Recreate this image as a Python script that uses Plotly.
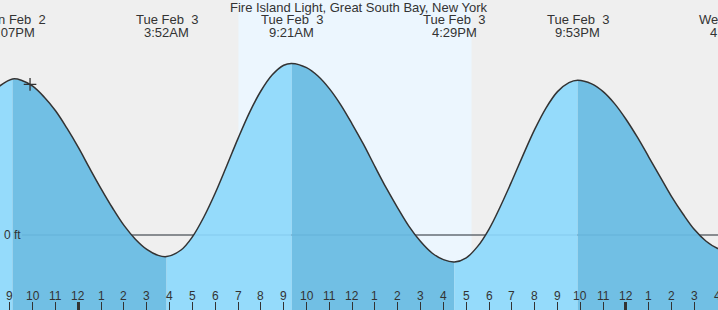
import plotly.graph_objects as go
from datetime import datetime, timedelta

# ---------------- data ----------------
title_text = "Fire Island Light, Great South Bay, New York"

curve_times = [
    "2026-02-02 20:30", "2026-02-02 21:07", "2026-02-02 21:30", "2026-02-02 22:00",
    "2026-02-02 22:30", "2026-02-02 23:00", "2026-02-02 23:30", "2026-02-03 00:00",
    "2026-02-03 00:30", "2026-02-03 01:00", "2026-02-03 01:30", "2026-02-03 02:00",
    "2026-02-03 02:30", "2026-02-03 03:00", "2026-02-03 03:30", "2026-02-03 03:52",
    "2026-02-03 04:30", "2026-02-03 05:00", "2026-02-03 05:30", "2026-02-03 06:00",
    "2026-02-03 06:30", "2026-02-03 07:00", "2026-02-03 07:30", "2026-02-03 08:00",
    "2026-02-03 08:30", "2026-02-03 09:00", "2026-02-03 09:21", "2026-02-03 10:00",
    "2026-02-03 10:30", "2026-02-03 11:00", "2026-02-03 11:30", "2026-02-03 12:00",
    "2026-02-03 12:30", "2026-02-03 13:00", "2026-02-03 13:30", "2026-02-03 14:00",
    "2026-02-03 14:30", "2026-02-03 15:00", "2026-02-03 15:30", "2026-02-03 16:00",
    "2026-02-03 16:29", "2026-02-03 17:00", "2026-02-03 17:30", "2026-02-03 18:00",
    "2026-02-03 18:30", "2026-02-03 19:00", "2026-02-03 19:30", "2026-02-03 20:00",
    "2026-02-03 20:30", "2026-02-03 21:00", "2026-02-03 21:30", "2026-02-03 21:53",
    "2026-02-03 22:30", "2026-02-03 23:00", "2026-02-03 23:30", "2026-02-04 00:00",
    "2026-02-04 00:30", "2026-02-04 01:00", "2026-02-04 01:30", "2026-02-04 02:00",
    "2026-02-04 02:30", "2026-02-04 03:00", "2026-02-04 03:30", "2026-02-04 04:00",
    "2026-02-04 04:41",
]
curve_ft = [
    2.47, 2.60, 2.58, 2.48,
    2.30, 2.07, 1.78, 1.46,
    1.11, 0.77, 0.45, 0.16,
    -0.07, -0.24, -0.34, -0.36,
    -0.25, -0.03, 0.30, 0.70,
    1.15, 1.61, 2.04, 2.40,
    2.67, 2.83, 2.86, 2.79,
    2.65, 2.44, 2.17, 1.85,
    1.51, 1.14, 0.78, 0.45,
    0.14, -0.11, -0.30, -0.41,
    -0.45, -0.38, -0.19, 0.10,
    0.48, 0.90, 1.34, 1.76,
    2.12, 2.39, 2.54, 2.58,
    2.52, 2.39, 2.19, 1.93,
    1.63, 1.30, 0.97, 0.64,
    0.35, 0.09, -0.10, -0.22,
    -0.28,
]

event_times = ["2026-02-02 21:07", "2026-02-03 03:52", "2026-02-03 09:21",
               "2026-02-03 16:29", "2026-02-03 21:53", "2026-02-04 04:41"]
event_ft = [2.60, -0.36, 2.86, -0.45, 2.58, -0.28]
event_day_labels = ["Mon Feb\u00a0 2", "Tue Feb\u00a0 3", "Tue Feb\u00a0 3",
                    "Tue Feb\u00a0 3", "Tue Feb\u00a0 3", "Wed Feb\u00a0 4"]
event_clock_labels = ["9:07PM", "3:52AM", "9:21AM", "4:29PM", "9:53PM", "4:41AM"]

sunrise = "2026-02-03 07:01"
sunset = "2026-02-03 17:14"

now_time = ["2026-02-02 21:53"]
now_ft = [2.51]

x_range = ["2026-02-02 20:34", "2026-02-04 04:02"]
y_range = [-1.25, 3.917]
zero_label = "0 ft"
first_hour_tick = "2026-02-02 21:00"
last_hour_tick = "2026-02-04 04:00"

# ---------------- styles ----------------
BG = "#efefef"
DAY = "#ecf6fe"
LIGHT = "#95dbfb"
DARK = "#71bfe4"
INK = "#333333"
FONT = "Liberation Sans, Arial, sans-serif"

fmt = "%Y-%m-%d %H:%M"
ct = [datetime.strptime(t, fmt) for t in curve_times]
et = [datetime.strptime(t, fmt) for t in event_times]
x0d = datetime.strptime(x_range[0], fmt)
x1d = datetime.strptime(x_range[1], fmt)

fig = go.Figure()

# filled segments between tide extremes (rising = light, falling = dark)
bounds = [ct[0]] + et
for i in range(len(bounds) - 1):
    a, b = bounds[i], bounds[i + 1]
    if a == b:
        continue
    sx = [t for t in ct if a <= t <= b]
    sy = [v for t, v in zip(ct, curve_ft) if a <= t <= b]
    color = LIGHT if event_ft[i] > 1.0 else DARK
    fig.add_trace(go.Scatter(x=[a, b], y=[y_range[0], y_range[0]], mode="lines",
                             line=dict(width=0), hoverinfo="skip", showlegend=False))
    fig.add_trace(go.Scatter(x=sx, y=sy, mode="lines", fill="tonexty", fillcolor=color,
                             line=dict(width=0, shape="spline"), hoverinfo="skip",
                             showlegend=False))

# tide curve
fig.add_trace(go.Scatter(x=ct, y=curve_ft, mode="lines",
                         line=dict(color=INK, width=1.5, shape="spline"),
                         hoverinfo="skip", showlegend=False))

# current-time marker
fig.add_trace(go.Scatter(x=now_time, y=now_ft, mode="markers",
                         marker=dict(symbol="cross-thin", size=9,
                                     line=dict(color=INK, width=1.3)),
                         hoverinfo="skip", showlegend=False))

# dummy trace for the second (midnight) tick axis
fig.add_trace(go.Scatter(x=[ct[0]], y=[0], xaxis="x2", mode="markers",
                         marker=dict(opacity=0), hoverinfo="skip", showlegend=False))

span = (x1d - x0d).total_seconds()
def frac(t):
    return (t - x0d).total_seconds() / span

annotations = [dict(text=title_text, xref="paper", yref="paper", x=0.5, y=1 - 7.5 / 310,
                    xanchor="center", yanchor="middle", showarrow=False,
                    font=dict(size=13, color=INK, family=FONT))]
for t, d, c in zip(et, event_day_labels, event_clock_labels):
    annotations.append(dict(text=d, xref="paper", yref="paper", x=frac(t), y=1 - 20 / 310,
                            xanchor="center", yanchor="middle", showarrow=False,
                            font=dict(size=13, color=INK, family=FONT)))
    annotations.append(dict(text=c, xref="paper", yref="paper", x=frac(t), y=1 - 32 / 310,
                            xanchor="center", yanchor="middle", showarrow=False,
                            font=dict(size=13, color=INK, family=FONT)))
annotations.append(dict(text=zero_label, xref="paper", yref="y", x=2 / 718, y=0,
                        xanchor="left", yanchor="middle", showarrow=False,
                        font=dict(size=12, color=INK, family=FONT)))

# hour tick labels (annotations so the edge label is kept and clipped like the original)
t = datetime.strptime(first_hour_tick, fmt)
tend = datetime.strptime(last_hour_tick, fmt)
while t <= tend:
    annotations.append(dict(text=t.strftime("%I").lstrip("0"), xref="x", yref="paper",
                            x=t, y=1 - 296 / 310, xanchor="center", yanchor="middle",
                            showarrow=False, font=dict(size=12, color=INK, family=FONT)))
    t += timedelta(hours=1)

shapes = [
    dict(type="rect", xref="x", yref="paper", x0=sunrise, x1=sunset, y0=0, y1=1,
         fillcolor=DAY, line=dict(width=0), layer="below"),
    dict(type="line", xref="paper", yref="y", x0=22 / 718, x1=1, y0=0, y1=0,
         line=dict(color=INK, width=1), layer="below"),
    dict(type="line", xref="paper", yref="y", x0=22 / 718, x1=1, y0=0, y1=0,
         line=dict(color="rgba(20,80,140,0.13)", width=1), layer="above"),
]

fig.update_layout(
    width=718, height=310,
    margin=dict(l=0, r=0, t=0, b=0, pad=0),
    paper_bgcolor=BG, plot_bgcolor=BG,
    showlegend=False,
    hovermode=False,
    font=dict(family=FONT, color=INK),
    annotations=annotations,
    shapes=shapes,
    xaxis=dict(type="date", range=x_range, showgrid=False, zeroline=False,
               showline=False, dtick=3600000, tick0="2026-02-03 00:00",
               ticks="inside", ticklen=8, tickwidth=1, tickcolor=INK,
               showticklabels=False),
    xaxis2=dict(type="date", range=x_range, overlaying="x", anchor="y",
                side="bottom", showgrid=False, zeroline=False, showline=False,
                dtick=86400000, tick0="2026-02-03 00:00", ticks="inside",
                ticklen=8, tickwidth=3, tickcolor=INK, showticklabels=False),
    yaxis=dict(range=y_range, showgrid=False, zeroline=False, showline=False,
               showticklabels=False, ticks=""),
)

fig.write_html("out.html", config={"displayModeBar": False})
